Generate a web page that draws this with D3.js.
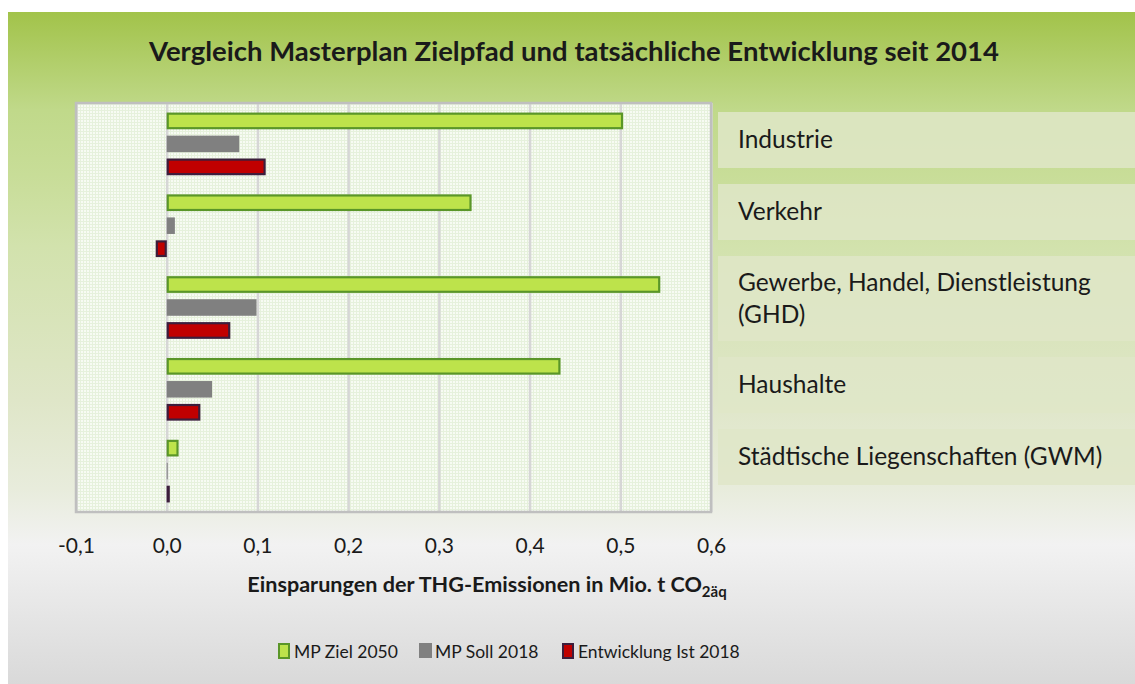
<!DOCTYPE html>
<html>
<head>
<meta charset="utf-8">
<script src="https://cdn.jsdelivr.net/npm/d3@7"></script>
<style>
  body { margin: 0; background: #fff; }
  svg text { font-family: Lato, "Open Sans", sans-serif; fill: #1a1a1a; }
</style>
</head>
<body>
<svg id="chart" width="1135" height="684"></svg>
<script>
const categories = [
  "Industrie",
  "Verkehr",
  "Gewerbe, Handel, Dienstleistung\n(GHD)",
  "Haushalte",
  "Städtische Liegenschaften (GWM)"
];
const seriesNames = ["MP Ziel 2050", "MP Soll 2018", "Entwicklung Ist 2018"];
const ziel2050 = [0.503, 0.336, 0.544, 0.434, 0.013];
const soll2018 = [0.080, 0.009, 0.099, 0.050, 0.001];
const ist2018 = [0.109, -0.012, 0.070, 0.037, 0.001];
const xTicks = [-0.1, 0, 0.1, 0.2, 0.3, 0.4, 0.5, 0.6];

const seriesValues = [ziel2050, soll2018, ist2018];
const seriesFill = ["#bde34b", "#808080", "#c00000"];
const seriesStroke = ["#5a9628", "none", "#3c1e3c"];

const svg = d3.select("#chart");
const width = 1135, height = 684;

const defs = svg.append("defs");

// outer background gradient
const bg = defs.append("linearGradient")
  .attr("id", "bg").attr("x1", 0).attr("y1", 0).attr("x2", 0).attr("y2", 1);
[[0, "#a2c34a"], [0.146, "#c0d98a"], [0.243, "#c8dd98"], [0.35, "#d2e2ad"],
 [0.577, "#dfe6c8"], [0.71, "#e8ecdc"], [0.793, "#f2f2f2"], [1, "#d9d9d9"]]
  .forEach(([o, c]) => bg.append("stop").attr("offset", o).attr("stop-color", c));

// dotted plot background
const pat = defs.append("pattern")
  .attr("id", "dots").attr("width", 3).attr("height", 3)
  .attr("patternUnits", "userSpaceOnUse");
pat.append("rect").attr("width", 3).attr("height", 3).attr("fill", "#e6f1dc");
pat.append("rect").attr("width", 2).attr("height", 2).attr("fill", "#f7fbf3");

svg.append("rect")
  .attr("x", 8).attr("y", 12)
  .attr("width", width - 8).attr("height", height - 12)
  .attr("fill", "url(#bg)");

// title
svg.append("text")
  .attr("x", 574).attr("y", 61)
  .attr("text-anchor", "middle")
  .attr("font-size", 27.5).attr("font-weight", "bold")
  .text("Vergleich Masterplan Zielpfad und tatsächliche Entwicklung seit 2014");

const plot = { left: 76, top: 103, right: 711, bottom: 512 };

const x = d3.scaleLinear().domain([-0.1, 0.6]).range([plot.left, plot.right]);
const y = d3.scaleBand().domain(categories).range([plot.top, plot.bottom]);
const ySub = d3.scaleBand().domain(seriesNames).range([0, y.bandwidth()])
  .paddingInner(0.28).paddingOuter(0.42);

svg.append("rect")
  .attr("x", plot.left).attr("y", plot.top)
  .attr("width", plot.right - plot.left).attr("height", plot.bottom - plot.top)
  .attr("fill", "url(#dots)");

// gridlines + tick labels
const fmt = d3.formatLocale({ decimal: ",", thousands: ".", grouping: [3], currency: ["", "€"], minus: "-" }).format(".1f");
const xAxis = svg.append("g")
  .attr("transform", `translate(0,${plot.bottom})`)
  .call(d3.axisBottom(x).tickValues(xTicks).tickSize(-(plot.bottom - plot.top))
    .tickPadding(26).tickFormat(fmt));
xAxis.select(".domain").remove();
xAxis.selectAll(".tick line").attr("stroke", "#d6d6d6").attr("stroke-width", 2.5);
xAxis.selectAll(".tick text").attr("font-size", 21).attr("fill", "#1a1a1a")
  .attr("font-family", "Lato, sans-serif");

svg.append("rect")
  .attr("x", plot.left).attr("y", plot.top)
  .attr("width", plot.right - plot.left).attr("height", plot.bottom - plot.top)
  .attr("fill", "none").attr("stroke", "#bfbfbf").attr("stroke-width", 2.5);

// bars
const groups = svg.append("g").selectAll("g")
  .data(categories)
  .join("g")
  .attr("transform", d => `translate(0,${y(d)})`);

groups.selectAll("rect")
  .data((c, ci) => seriesNames.map((s, si) => ({ s, si, v: seriesValues[si][ci] })))
  .join("rect")
  .attr("x", d => x(Math.min(0, d.v)) + (d.si === 1 ? 0 : 1))
  .attr("y", d => ySub(d.s) + (d.si === 1 ? 0 : 1))
  .attr("width", d => Math.max(1, Math.abs(x(d.v) - x(0)) - (d.si === 1 ? 0 : 2)))
  .attr("height", d => ySub.bandwidth() - (d.si === 1 ? 0 : 2))
  .attr("fill", d => seriesFill[d.si])
  .attr("stroke", d => seriesStroke[d.si])
  .attr("stroke-width", 2.2);

// x axis title
const xt = svg.append("text")
  .attr("x", 487).attr("y", 592)
  .attr("text-anchor", "middle")
  .attr("font-size", 21.6).attr("font-weight", "bold");
xt.append("tspan").text("Einsparungen der THG-Emissionen in Mio. t CO");
xt.append("tspan").attr("font-size", 15).attr("dy", 5).text("2äq");

// category label boxes
let boxTop = 112;
const boxes = categories.map(c => {
  const lines = c.split("\n");
  const h = 27 + 29 * lines.length;
  const b = { c, lines, top: boxTop, h };
  boxTop += h + 16;
  return b;
});

const lbl = svg.append("g").selectAll("g").data(boxes).join("g");
lbl.append("rect")
  .attr("x", 718).attr("y", d => d.top)
  .attr("width", width - 718).attr("height", d => d.h)
  .attr("fill", "#dfe6c8").attr("opacity", 0.85);
lbl.each(function(d) {
  const t = d3.select(this).append("text")
    .attr("font-size", 24.5)
    .attr("x", 738);
  const mid = d.top + d.h / 2;
  d.lines.forEach((line, i) => {
    t.append("tspan")
      .attr("x", 738)
      .attr("y", mid + 8 + (i - (d.lines.length - 1) / 2) * 32)
      .text(line);
  });
});

// legend
const legendX = [278, 419, 562];
const legend = svg.append("g").selectAll("g")
  .data(seriesNames)
  .join("g")
  .attr("transform", (d, i) => `translate(${legendX[i]},643)`);
legend.append("rect")
  .attr("x", (d, i) => i === 1 ? 0 : 1).attr("y", (d, i) => i === 1 ? 0 : 1)
  .attr("width", (d, i) => i === 1 ? 13 : 10).attr("height", (d, i) => i === 1 ? 15 : 14)
  .attr("fill", (d, i) => seriesFill[i])
  .attr("stroke", (d, i) => seriesStroke[i])
  .attr("stroke-width", 2);
legend.append("text")
  .attr("x", 16).attr("y", 15)
  .attr("font-size", 17.5)
  .text(d => d);
</script>
</body>
</html>
